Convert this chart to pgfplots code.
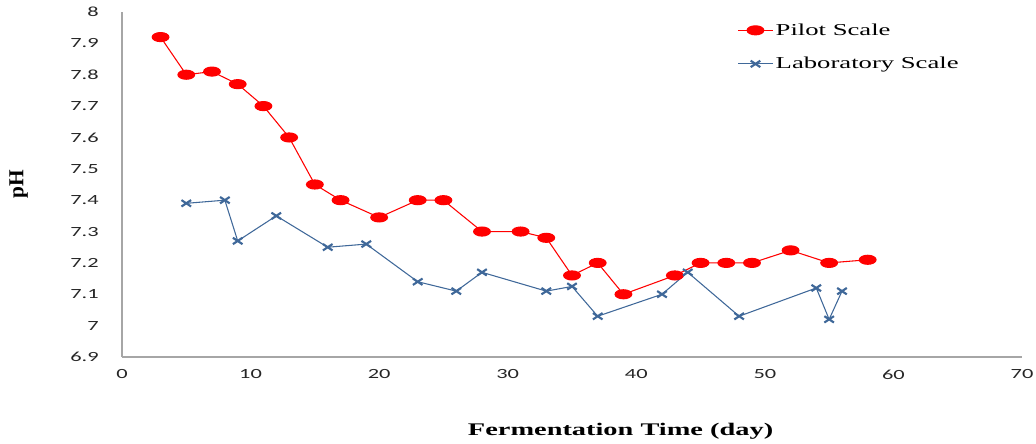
\documentclass[border=0pt]{standalone}
\usepackage{fontspec}
\setmainfont{Liberation Serif}[FakeStretch=1.6]
\newfontfamily\tickfont{Carlito}[FakeStretch=1.6]
\newfontfamily\plainserif{Liberation Serif}
\usepackage{pgfplots}
\pgfplotsset{compat=1.18}
\definecolor{pilotred}{HTML}{FF0000}
\definecolor{labblue}{HTML}{3F6899}
\begin{document}
\begin{tikzpicture}
\useasboundingbox (-91.5pt,-64.5pt) rectangle (685.5pt,267.75pt);
\begin{axis}[
  at={(0,0)}, anchor=south west,
  scale only axis,
  width=675pt, height=258.75pt,
  xmin=0, xmax=70, ymin=6.9, ymax=8,
  xtick={0,10,20,30,40,50,60,70},
  ytick={6.9,7,7.1,7.2,7.3,7.4,7.5,7.6,7.7,7.8,7.9,8},
  yticklabels={6.9,7,7.1,7.2,7.3,7.4,7.5,7.6,7.7,7.8,7.9,8},
  axis x line*=bottom, axis y line*=left,
  axis line style={draw=black!35, line width=1pt, -},
  major tick length=0pt,
  /pgf/number format/assume math mode=true,
  ticklabel style={font=\tickfont\fontsize{10.5}{12}\selectfont, text=black!85},
  yticklabel style={xshift=-14pt},
  xticklabel style={yshift=-6pt},
  xlabel={\textbf{Fermentation Time (day)}},
  xlabel style={at={(axis description cs:0.554,0)}, anchor=base, yshift=-58.5pt, font=\fontsize{13.3}{15}\selectfont},
  ylabel={\plainserif\bfseries pH},
  ylabel style={at={(axis description cs:0,0.5)}, anchor=center, yshift=77.5pt, font=\fontsize{16}{18}\selectfont},
  clip=false,
  legend style={draw=none, fill=none, at={(axis description cs:0.684,0.975)}, anchor=north west,
    font=\fontsize{12.5}{14}\selectfont, row sep=11pt, inner sep=0pt},
  legend cell align=left,
  legend image code/.code={\draw[mark repeat=2,mark phase=2] plot coordinates {(0cm,0cm)(0.45cm,0cm)(0.9cm,0cm)};},
]
\addplot[color=pilotred, line width=0.8pt, mark=*, mark size=3.4pt, mark options={xscale=1.85, fill=pilotred, draw=pilotred}]
coordinates {(3,7.92)(5,7.80)(7,7.81)(9,7.77)(11,7.70)(13,7.60)(15,7.45)(17,7.40)(20,7.345)(23,7.40)(25,7.40)(28,7.30)(31,7.30)(33,7.28)(35,7.16)(37,7.20)(39,7.10)(43,7.16)(45,7.20)(47,7.20)(49,7.20)(52,7.24)(55,7.20)(58,7.21)};
\addlegendentry{Pilot Scale}
\addplot[color=labblue, line width=0.8pt, mark=x, mark size=3.4pt, mark options={xscale=1.5, line width=1.6pt}]
coordinates {(5,7.39)(8,7.40)(9,7.27)(12,7.35)(16,7.25)(19,7.26)(23,7.14)(26,7.11)(28,7.17)(33,7.11)(35,7.125)(37,7.03)(42,7.10)(44,7.17)(48,7.03)(54,7.12)(55,7.02)(56,7.11)};
\addlegendentry{Laboratory Scale}
\end{axis}
\end{tikzpicture}
\end{document}
